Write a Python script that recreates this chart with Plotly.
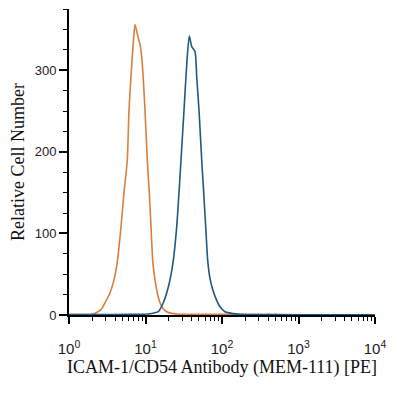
import plotly.graph_objects as go

# Isotype / control histogram (orange)
ctrl_x = [1.00, 1.619, 1.998, 2.394, 2.700, 2.955, 3.435, 3.875, 4.305, 4.784, 5.236, 5.783,
          6.086, 6.660, 7.072, 7.289, 7.743, 8.222, 8.474, 9.000, 9.851, 10.56, 11.21, 11.80,
          12.42, 13.31, 14.27, 15.47, 16.93, 18.93, 22.20, 28.25, 51.6, 127.2, 424.2, 1910, 10000]
ctrl_y = [0.5, 0.5, 1, 4, 8, 15, 27, 43, 67, 108, 150, 190,
          251, 312, 345, 356, 346, 336, 332, 312, 251, 190, 150, 108,
          67, 43, 27, 15, 8, 4, 2, 1, 1, 0.8, 0.5, 0.3, 0.2]

# ICAM-1/CD54 stained histogram (blue)
stain_x = [1.00, 2.542, 6.272, 9.851, 11.45, 12.92, 14.70, 17.09, 18.93, 20.91, 23.09, 25.57,
           27.41, 29.12, 31.87, 34.87, 37.37, 40.18, 44.37, 46.70, 50.04, 54.29, 57.65, 61.23,
           65.03, 69.67, 76.28, 85.25, 94.2, 109.4, 133.9, 171.9, 424.2, 1910, 10000]
stain_y = [0.5, 0.5, 0.8, 1, 1.5, 2.5, 4, 15, 27, 43, 67, 108,
           150, 190, 251, 312, 342, 329, 323, 292, 251, 190, 150, 108,
           67, 45, 30, 18, 10, 4, 2, 1, 0.5, 0.3, 0.2]

x_tickvals = [1, 10, 100, 1000, 10000]
x_exponents = ["0", "1", "2", "3", "4"]
x_ticktext = ["10<sup>%s</sup>" % e for e in x_exponents]
y_tickvals = [0, 100, 200, 300]

fig = go.Figure()
fig.add_trace(go.Scatter(x=ctrl_x, y=ctrl_y, mode="lines",
                         line=dict(color="#DB7F3A", width=1.6, shape="spline", smoothing=0.6),
                         showlegend=False))
fig.add_trace(go.Scatter(x=stain_x, y=stain_y, mode="lines",
                         line=dict(color="#1B5A85", width=1.6, shape="spline", smoothing=0.6),
                         showlegend=False))

fig.update_layout(
    width=392, height=387,
    margin=dict(l=61, r=25, t=1, b=80),
    paper_bgcolor="white", plot_bgcolor="white",
    xaxis=dict(
        type="log", range=[0, 4],
        tickvals=x_tickvals, ticktext=x_ticktext,
        showline=True, linecolor="black", linewidth=2,
        ticks="outside", ticklen=7, tickwidth=1.5, tickcolor="black",
        minor=dict(dtick="D1", ticks="outside", ticklen=4, tickwidth=1, tickcolor="black"),
        showgrid=False, zeroline=False,
        tickfont=dict(family="Liberation Sans, Arial", size=15, color="#222"),
        ticklabelstandoff=12,
        title=dict(text="ICAM-1/CD54 Antibody (MEM-111) [PE]",
                   font=dict(family="Liberation Serif, Times New Roman", size=18, color="#111"),
                   standoff=4),
    ),
    yaxis=dict(
        range=[0, 375],
        tickvals=y_tickvals,
        showline=True, linecolor="black", linewidth=2,
        ticks="outside", ticklen=8, tickwidth=1.5, tickcolor="black",
        minor=dict(dtick=25, ticks="outside", ticklen=4, tickwidth=1, tickcolor="black"),
        showgrid=False, zeroline=False,
        tickfont=dict(family="Liberation Sans, Arial", size=13, color="#222"),
        title=dict(text="Relative Cell Number",
                   font=dict(family="Liberation Serif, Times New Roman", size=18, color="#111"),
                   standoff=12),
    ),
)

fig.write_html("out.html")
